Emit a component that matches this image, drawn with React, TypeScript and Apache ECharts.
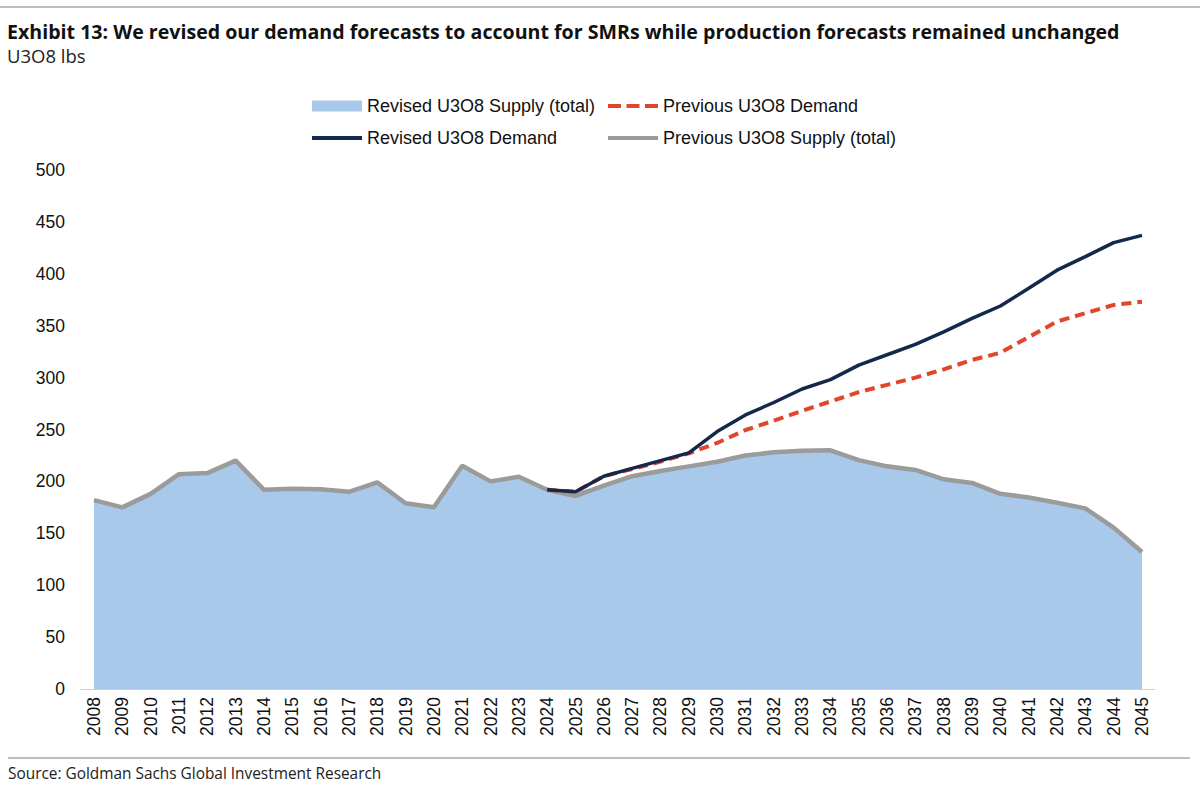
import React, { useEffect, useRef } from 'react';
import * as echarts from 'echarts';

const years = [
  '2008', '2009', '2010', '2011', '2012', '2013', '2014', '2015', '2016', '2017',
  '2018', '2019', '2020', '2021', '2022', '2023', '2024', '2025', '2026', '2027',
  '2028', '2029', '2030', '2031', '2032', '2033', '2034', '2035', '2036', '2037',
  '2038', '2039', '2040', '2041', '2042', '2043', '2044', '2045',
];

// 2008-2023 history, then forecasts
const previousSupply = [
  182, 175, 188, 207, 208, 220, 192, 193, 192.5, 190, 199, 179, 175, 215, 200, 204.5,
  192, 186, 196, 205, 210, 214.5, 219, 225, 228, 229.5, 230, 220.5, 214.5, 211, 202,
  198.5, 188, 184.5, 179.5, 174, 155.5, 132,
];

const revisedSupply = [
  182, 175, 188, 207, 208, 220, 192, 193, 192.5, 190, 199, 179, 175, 215, 200, 204.5,
  192, 190, 196, 205, 210, 214.5, 219, 225, 228, 229.5, 230, 220.5, 214.5, 211, 202,
  198.5, 188, 184.5, 179.5, 174, 155.5, 132,
];

const revisedDemand = [
  null, null, null, null, null, null, null, null, null, null, null, null, null, null, null, null,
  192, 190, 205, 212.5, 220, 227.5, 248, 264, 276, 289, 298, 312, 322, 332, 344,
  357, 369, 386, 403.5, 416.5, 430, 437,
];

const previousDemand = [
  null, null, null, null, null, null, null, null, null, null, null, null, null, null, null, null,
  192, 190, 205, 212, 219, 227, 237, 249.5, 258.5, 268, 277, 286, 293, 300, 308,
  317, 324, 339, 354, 362, 370, 373,
];

const FONT = 'Liberation Sans, Arial, sans-serif';
const TITLE_FONT = 'Open Sans, Noto Sans, sans-serif';

// legend swatches drawn as plain bars so no symbol dot shows up
const SOLID_ICON = 'path://M0,0h50v4h-50z';
const DASH_ICON = 'path://M0,0h13v4h-13z M18.5,0h13v4h-13z M37,0h13v4h-13z';

export default function App() {
  const chartRef = useRef<HTMLDivElement>(null);

  useEffect(() => {
    if (!chartRef.current) return;
    const chart = echarts.init(chartRef.current, undefined, { renderer: 'svg' });

    const legendText = { color: '#111', fontSize: 18, fontFamily: FONT };
    const legendBase = {
      orient: 'horizontal',
      itemWidth: 50,
      itemGap: 5,
      textStyle: legendText,
      selectedMode: false,
    };

    chart.setOption({
      animation: false,
      title: {
        text: 'Exhibit 13: We revised our demand forecasts to account for SMRs while production forecasts remained unchanged',
        subtext: 'U3O8 lbs',
        left: 2,
        top: 16,
        itemGap: 5,
        textStyle: { fontFamily: TITLE_FONT, fontWeight: 'bold', fontSize: 19.6, color: '#111' },
        subtextStyle: { fontFamily: TITLE_FONT, fontSize: 18.5, color: '#222' },
      },
      legend: [
        { ...legendBase, left: 307, top: 92, itemHeight: 11, data: [{ name: 'Revised U3O8 Supply (total)', icon: 'rect' }] },
        { ...legendBase, left: 603, top: 92, itemHeight: 5, data: [{ name: 'Previous U3O8 Demand', icon: DASH_ICON }] },
        { ...legendBase, left: 307, top: 124, itemHeight: 4, data: [{ name: 'Revised U3O8 Demand', icon: SOLID_ICON }] },
        { ...legendBase, left: 603, top: 124, itemHeight: 5, data: [{ name: 'Previous U3O8 Supply (total)', icon: SOLID_ICON }] },
      ],
      grid: { left: 94, right: 58, top: 170, bottom: 108, containLabel: false },
      xAxis: {
        type: 'category',
        data: years,
        boundaryGap: false,
        axisLine: { show: false },
        axisTick: { show: false },
        axisLabel: { rotate: 90, fontSize: 17.5, color: '#111', fontFamily: FONT, margin: 8, interval: 0 },
      },
      yAxis: {
        type: 'value',
        min: 0,
        max: 500,
        interval: 50,
        splitLine: { show: false },
        axisLine: { show: false },
        axisTick: { show: false },
        axisLabel: { fontSize: 17.5, color: '#111', fontFamily: FONT, margin: 29 },
      },
      graphic: {
        elements: [
          { type: 'line', shape: { x1: 80, y1: 689.5, x2: 1155, y2: 689.5 }, style: { stroke: '#d0d0d0', lineWidth: 1 } },
          {
            type: 'text',
            left: 8,
            top: 766,
            style: { text: 'Source: Goldman Sachs Global Investment Research', fontSize: 15.4, fill: '#222', fontFamily: TITLE_FONT },
          },
        ],
      },
      series: [
        {
          name: 'Revised U3O8 Supply (total)',
          type: 'line',
          data: revisedSupply,
          symbol: 'none',
          itemStyle: { color: '#a9c9eb' },
          lineStyle: { width: 0, color: '#a9c9eb' },
          areaStyle: { color: '#a9c9eb', opacity: 1 },
          z: 1,
        },
        {
          name: 'Previous U3O8 Supply (total)',
          type: 'line',
          data: previousSupply,
          symbol: 'none',
          itemStyle: { color: '#9b9b9b' },
          lineStyle: { width: 4.5, color: '#9b9b9b' },
          z: 2,
        },
        {
          name: 'Previous U3O8 Demand',
          type: 'line',
          data: previousDemand,
          symbol: 'none',
          itemStyle: { color: '#e1462c' },
          lineStyle: { width: 4, color: '#e1462c', type: [10, 6] },
          z: 3,
        },
        {
          name: 'Revised U3O8 Demand',
          type: 'line',
          data: revisedDemand,
          symbol: 'none',
          itemStyle: { color: '#14284b' },
          lineStyle: { width: 3.5, color: '#14284b' },
          z: 4,
        },
      ],
    });

    return () => {
      chart.dispose();
    };
  }, []);

  return (
    <div style={{ position: 'absolute', left: 0, top: 0, width: '1200px', height: '797px', background: '#fff' }}>
      <div style={{ position: 'absolute', left: 0, top: 6, width: 1200, height: 2, background: '#bdbdbd' }} />
      <div style={{ position: 'absolute', left: 8, top: 757, width: 1182, height: 2, background: '#bdbdbd' }} />
      <div
        ref={chartRef}
        style={{ position: 'absolute', left: 0, top: 0, width: '1200px', height: '797px' }}
      />
    </div>
  );
}
